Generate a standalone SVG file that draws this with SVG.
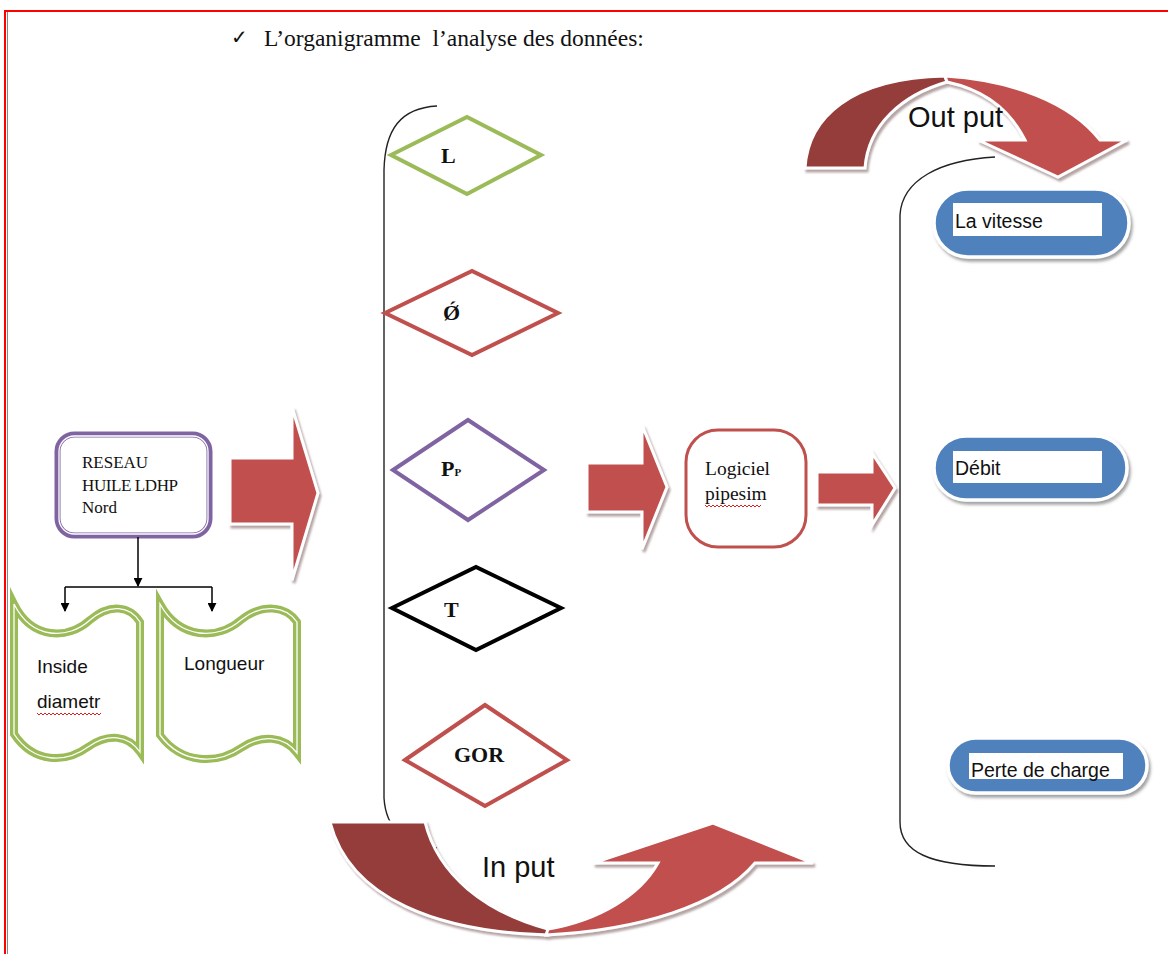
<svg xmlns="http://www.w3.org/2000/svg" width="1168" height="954" viewBox="0 0 1168 954">
  <defs>
    <style>
      .serif { font-family: "Liberation Serif", "Times New Roman", serif; fill: #111; }
      .sans { font-family: "Liberation Sans", Arial, sans-serif; fill: #111; }
      .dlabel { font-family: "Liberation Serif", "Times New Roman", serif; font-weight: bold; font-size: 22px; fill: #111; }
      .diamond { fill: #fff; stroke-width: 4; stroke-linejoin: miter; }
      .green2 { fill: #fff; stroke: #9BBB59; stroke-width: 8; stroke-linejoin: miter; stroke-miterlimit: 6; }
      .thinwhite { fill: none; stroke: #fff; stroke-width: 1.3; }
      .block { fill: #C0504D; stroke: #fff; stroke-width: 3; stroke-linejoin: miter; }
      .pill { fill: #4F81BD; stroke: #fff; stroke-width: 3.5; }
      .pilltext { font-family: "Liberation Sans", Arial, sans-serif; font-size: 19.5px; fill: #111; }
      .brace { fill: none; stroke: #222; stroke-width: 1.4; }
      .wire { fill: none; stroke: #000; stroke-width: 1.5; }
      .squiggle { fill: none; stroke: #E02020; stroke-width: 1; }
    </style>
    <marker id="tri" viewBox="0 0 10 10" refX="9" refY="5" markerWidth="9" markerHeight="9" markerUnits="userSpaceOnUse" orient="auto">
      <path d="M0,0 L10,5 L0,10 Z" fill="#000"/>
    </marker>
    <filter id="shade" x="-10%" y="-10%" width="130%" height="130%">
      <feDropShadow dx="2" dy="3" stdDeviation="1.2" flood-color="#7a5a5a" flood-opacity="0.55"/>
    </filter>
    <filter id="pillshade" x="-10%" y="-20%" width="130%" height="150%">
      <feDropShadow dx="2" dy="3" stdDeviation="1.5" flood-color="#666" flood-opacity="0.6"/>
    </filter>
  </defs>

  <!-- page -->
  <rect x="0" y="0" width="1168" height="954" fill="#fff"/>
  <line x1="4" y1="11" x2="1168" y2="11" stroke="#ff0000" stroke-width="2"/>
  <line x1="5" y1="11" x2="5" y2="954" stroke="#ff0000" stroke-width="2"/>
  <line x1="7.5" y1="12" x2="7.5" y2="954" stroke="#888" stroke-width="1"/>

  <!-- heading -->
  <g id="title">
    <text x="231" y="44" font-family="'DejaVu Sans', sans-serif" font-size="20" fill="#111">✓</text>
    <text x="264" y="46" class="serif" font-size="23.5" xml:space="preserve">L’organigramme  l’analyse des données:</text>
  </g>

  <!-- braces grouping inputs and outputs -->
  <g id="braces">
    <path class="brace" d="M437,106 C400,108 385,130 384,170 L384,798 C386,830 405,845 437,848"/>
    <path class="brace" d="M995,157 C940,160 902,180 900,215 L900,822 C900,852 930,866 995,866"/>
  </g>

  <!-- source network -->
  <g id="node-reseau">
    <rect x="57.5" y="434.5" width="152" height="101" rx="17" fill="#fff" stroke="#8064A2" stroke-width="6"/>
    <rect x="59" y="436" width="149" height="98" rx="15.5" class="thinwhite"/>
    <text class="serif" font-size="17" x="82" y="468">RESEAU</text>
    <text class="serif" font-size="17" x="82" y="491" letter-spacing="-0.4">HUILE LDHP</text>
    <text class="serif" font-size="17" x="82" y="513">Nord</text>
  </g>

  <g id="node-inside">
    <path class="green2" d="M14,604 C32,640 68,640 90,620 C110,603 130,606 140,622 L140,752 C128,735 108,733 88,747 C66,763 34,764 14,734 Z"/>
    <path class="thinwhite" d="M14,604 C32,640 68,640 90,620 C110,603 130,606 140,622 L140,752 C128,735 108,733 88,747 C66,763 34,764 14,734 Z"/>
    <text class="sans" font-size="19" x="37" y="673">Inside</text>
    <text class="sans" font-size="19" x="37" y="708">diametr</text>
    <path class="squiggle" d="M37,713 l2,2 l2,-2 l2,2 l2,-2 l2,2 l2,-2 l2,2 l2,-2 l2,2 l2,-2 l2,2 l2,-2 l2,2 l2,-2 l2,2 l2,-2 l2,2 l2,-2 l2,2 l2,-2 l2,2 l2,-2 l2,2 l2,-2 l2,2 l2,-2 l2,2 l2,-2 l2,2 l2,-2 l2,2 l2,-2"/>
  </g>

  <g id="node-longueur">
    <path class="green2" d="M160,604 C180,640 218,640 241,620 C262,603 286,606 297,622 L297,753 C284,736 262,734 241,748 C218,764 182,765 160,735 Z"/>
    <path class="thinwhite" d="M160,604 C180,640 218,640 241,620 C262,603 286,606 297,622 L297,753 C284,736 262,734 241,748 C218,764 182,765 160,735 Z"/>
    <text class="sans" font-size="19" x="184" y="670">Longueur</text>
  </g>

  <!-- input parameters -->
  <g id="node-L">
    <polygon class="diamond" stroke="#9BBB59" points="391,155 467,117 541,155 467,194"/>
    <text class="dlabel" x="441" y="163">L</text>
  </g>
  <g id="node-phi">
    <polygon class="diamond" stroke="#C0504D" points="385,313 472,271 558,313 472,355"/>
    <text class="dlabel" x="443" y="320">Ǿ</text>
  </g>
  <g id="node-Pp">
    <polygon class="diamond" stroke="#8064A2" points="393,470 468,420 544,470 468,520"/>
    <text class="dlabel" x="441" y="476">P<tspan font-size="11">P</tspan></text>
  </g>
  <g id="node-T">
    <polygon class="diamond" stroke="#000" points="392,608 476,567 561,608 476,650"/>
    <text class="dlabel" x="444" y="617">T</text>
  </g>
  <g id="node-GOR">
    <polygon class="diamond" stroke="#C0504D" points="405,760 485,705 567,760 485,806"/>
    <text class="dlabel" x="454" y="762">GOR</text>
  </g>

  <!-- software -->
  <g id="node-pipesim">
    <rect x="686" y="430" width="120" height="117" rx="32" fill="#fff" stroke="#C0504D" stroke-width="3"/>
    <text class="serif" font-size="19.5" x="705" y="475">Logiciel</text>
    <text class="serif" font-size="19.5" x="705" y="500">pipesim</text>
    <path class="squiggle" d="M705,505 l2,2 l2,-2 l2,2 l2,-2 l2,2 l2,-2 l2,2 l2,-2 l2,2 l2,-2 l2,2 l2,-2 l2,2 l2,-2 l2,2 l2,-2 l2,2 l2,-2 l2,2 l2,-2 l2,2 l2,-2 l2,2 l2,-2 l2,2 l2,-2 l2,2 l2,-2"/>
  </g>

  <!-- results -->
  <g id="node-vitesse">
    <rect class="pill" x="934" y="189" width="195" height="68" rx="34" filter="url(#pillshade)"/>
    <rect x="953" y="203" width="149" height="33" fill="#fff"/>
    <text class="pilltext" x="955" y="228">La vitesse</text>
  </g>
  <g id="node-debit">
    <rect class="pill" x="934" y="436" width="193" height="64" rx="32" filter="url(#pillshade)"/>
    <rect x="953" y="451" width="149" height="32" fill="#fff"/>
    <text class="pilltext" x="955" y="475">Débit</text>
  </g>
  <g id="node-perte">
    <rect class="pill" x="948" y="738" width="199" height="55" rx="27.5" filter="url(#pillshade)"/>
    <rect x="969" y="753" width="154" height="26" fill="#fff"/>
    <text class="pilltext" x="971" y="777">Perte de charge</text>
  </g>

  <!-- connectors -->
  <g id="connectors">
    <path class="wire" d="M138,537 L138,586" marker-end="url(#tri)"/>
    <path class="wire" d="M65,587 L212,587"/>
    <path class="wire" d="M65,587 L65,611" marker-end="url(#tri)"/>
    <path class="wire" d="M212,587 L212,611" marker-end="url(#tri)"/>

    <path class="block" filter="url(#shade)" d="M230,458 L292,458 L292,407 L318,493 L292,580 L292,524 L230,524 Z"/>
    <path class="block" filter="url(#shade)" d="M587,463 L642,463 L642,425 L667,487 L642,549 L642,512 L587,512 Z"/>
    <path class="block" filter="url(#shade)" d="M817,472 L872,472 L872,453 L895,488 L872,525 L872,505 L817,505 Z"/>

    <!-- curved "Out put" arrow -->
    <g filter="url(#shade)">
      <path class="block" style="fill:#953D3B" d="M805,168 C808,118 850,78 945,76 L947,82 C902,95 868,125 865,168 Z"/>
      <path class="block" d="M945,76 C1012,80 1070,102 1100,140 L1127,140 L1058,177 L978,140 L1025,140 C1010,110 985,90 947,82 Z"/>
    </g>
    <text class="sans" font-size="29" x="908" y="127">Out put</text>

    <!-- curved "In put" arrow -->
    <g filter="url(#shade)">
      <path class="block" style="fill:#953D3B" d="M330,822 L425,822 C438,875 485,912 548,929 L548,935 C440,932 350,900 330,822 Z"/>
      <path class="block" d="M546,935 C640,930 720,905 755,863 L813,863 L713,823 L593,863 L658,863 C640,895 600,920 548,929 Z"/>
    </g>
    <text class="sans" font-size="29" x="482" y="877">In put</text>
  </g>
</svg>
